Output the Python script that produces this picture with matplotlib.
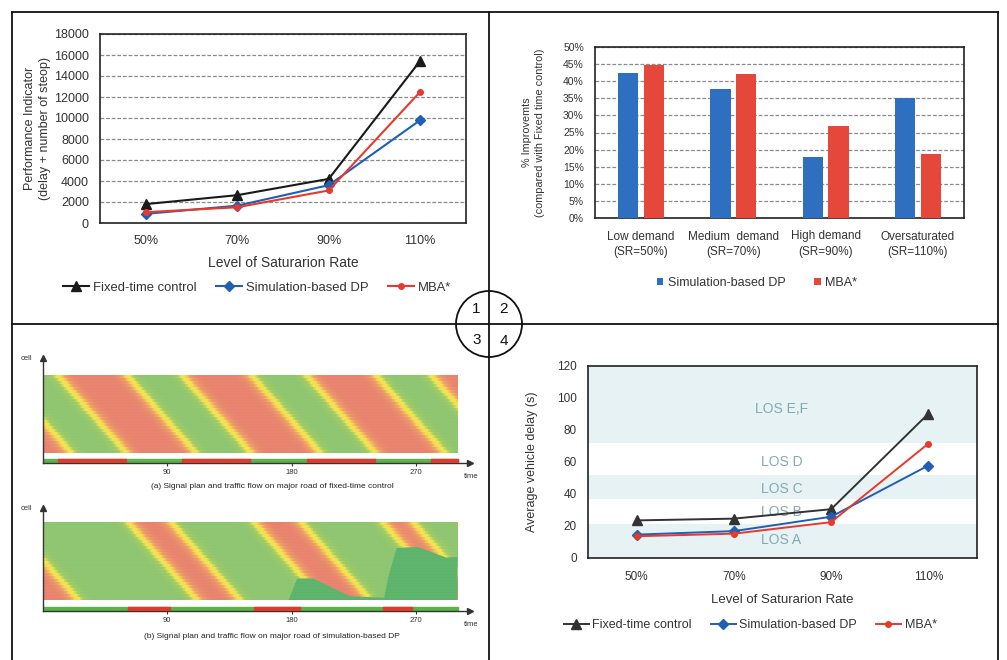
import numpy as np
import matplotlib
matplotlib.use("Agg")
import matplotlib.pyplot as plt
from matplotlib.colors import LinearSegmentedColormap
from matplotlib.patches import Circle

plt.rcParams['font.family'] = ['Liberation Sans', 'DejaVu Sans']

# ---------------- data ----------------
sat_levels = ['50%', '70%', '90%', '110%']
series_names = ['Fixed-time control', 'Simulation-based DP', 'MBA*']

perf_fixed = [1800, 2650, 4200, 15450]
perf_dp = [870, 1650, 3600, 9800]
perf_mba = [1030, 1500, 3100, 12500]

demand_labels = ['Low demand\n(SR=50%)', 'Medium  demand\n(SR=70%)',
                 'High demand\n(SR=90%)', 'Oversaturated\n(SR=110%)']
impr_dp = [42.3, 37.6, 17.8, 35.1]
impr_mba = [44.6, 42.1, 27.0, 18.8]

delay_fixed = [23.5, 24.6, 30.5, 90.2]
delay_dp = [14.6, 16.8, 25.8, 57.8]
delay_mba = [13.6, 15.2, 22.4, 71.5]

los_edges = [0, 21, 37, 52, 72, 120]
los_shaded = [True, False, True, False, True]
los_labels = ['LOS A', 'LOS B', 'LOS C', 'LOS D', 'LOS E,F']
los_label_y = [11, 29, 43, 60, 93]

# time-space diagrams: red phases of the signal at the stop line
flow_time_ticks = [90, 180, 270]
sig_a_red = [(-79, -30), (11, 60), (101, 150), (191, 240), (281, 330)]
sig_b_red = [(-60, -25), (62, 92), (153, 186), (246, 267)]
queue_b_t = [178, 184, 196, 222, 247, 250, 256, 271, 292, 300, 300]
queue_b_c = [0.0, 0.28, 0.28, 0.05, 0.03, 0.3, 0.675, 0.69, 0.55, 0.56, 0.0]
T_END = 300
LAG = 50
N_CELLS = 26

# ---------------- style ----------------
C_BLACK = '#1a1a1a'
C_BLUE = '#1f5fb4'
C_RED = '#e8392d'
C_BAR_BLUE = '#2f6fbf'
C_BAR_RED = '#e5473b'
TXT = '#333333'
GRID = '#8a8a8a'

W, H = 1007, 660
fig = plt.figure(figsize=(W / 100, H / 100), dpi=100)


def px_axes(x0, y0, x1, y1):
    return fig.add_axes([x0 / W, 1 - y1 / H, (x1 - x0) / W, (y1 - y0) / H])


def style_frame(ax):
    for s in ax.spines.values():
        s.set_color('#222222')
        s.set_linewidth(1.2)
    ax.tick_params(length=0, colors=TXT)


xpos = np.arange(len(sat_levels))

# ---------------- panel 1 ----------------
ax1 = px_axes(100, 34, 466, 223)
l1, = ax1.plot(xpos, perf_fixed, color=C_BLACK, marker='^', ms=7.5, lw=1.5)
l2, = ax1.plot(xpos, perf_dp, color=C_BLUE, marker='D', ms=5, lw=1.5)
l3, = ax1.plot(xpos, perf_mba, color=C_RED, marker='o', ms=4, lw=1.5)
ax1.set_xlim(-0.5, 3.5)
ax1.set_ylim(0, 18000)
ax1.set_yticks(np.arange(0, 18001, 2000))
ax1.set_xticks(xpos)
ax1.set_xticklabels(sat_levels, fontsize=9)
ax1.tick_params(axis='y', labelsize=9, pad=8)
ax1.tick_params(axis='x', pad=9)
ax1.yaxis.grid(True, color=GRID, ls=(0, (3, 1.5)), lw=0.9)
ax1.set_axisbelow(True)
style_frame(ax1)
ax1.set_ylabel('Performance Indicator\n(delay + number of steop)', fontsize=9,
               color=TXT, labelpad=2, linespacing=1.35)
ax1.set_xlabel('Level of Saturarion Rate', fontsize=10, color=TXT, labelpad=6)
ax1.legend([l1, l2, l3], series_names, loc='center', ncol=3, frameon=False,
           bbox_to_anchor=(257 / W, 1 - 288 / H), bbox_transform=fig.transFigure,
           fontsize=9.4, handlelength=2.0, columnspacing=1.5, handletextpad=0.3,
           labelcolor=TXT)

# ---------------- panel 2 ----------------
ax2 = px_axes(595, 47, 964, 218)
bw = 0.22
b1 = ax2.bar(xpos - 0.14, impr_dp, width=bw, color=C_BAR_BLUE, zorder=3)
b2 = ax2.bar(xpos + 0.14, impr_mba, width=bw, color=C_BAR_RED, zorder=3)
ax2.set_xlim(-0.5, 3.5)
ax2.set_ylim(0, 50)
ax2.set_yticks(np.arange(0, 51, 5))
ax2.set_yticklabels([f'{v}%' for v in range(0, 51, 5)], fontsize=7.5)
ax2.set_xticks(xpos)
ax2.set_xticklabels(demand_labels, fontsize=8.5, linespacing=1.35)
ax2.tick_params(axis='y', pad=8)
ax2.tick_params(axis='x', pad=9)
ax2.yaxis.grid(True, color=GRID, ls=(0, (3, 1.5)), lw=0.9, zorder=0)
ax2.set_axisbelow(True)
style_frame(ax2)
ax2.set_ylabel('% Improvemts\n(compared with Fixed time control)', fontsize=7.8,
               color=TXT, labelpad=13, linespacing=1.4)
ax2.legend([b1, b2], series_names[1:], loc='center', ncol=2, frameon=False,
           bbox_to_anchor=(757 / W, 1 - 283 / H), bbox_transform=fig.transFigure,
           fontsize=9, handlelength=0.55, handleheight=0.55, columnspacing=2.2,
           handletextpad=0.4, labelcolor=TXT)

# ---------------- panel 4 ----------------
ax4 = px_axes(588, 366, 977, 558)
for i, shaded in enumerate(los_shaded):
    if shaded:
        ax4.axhspan(los_edges[i], los_edges[i + 1], color='#e6f2f3', lw=0, zorder=0)
for lab, yv in zip(los_labels, los_label_y):
    ax4.text(1.49, yv, lab, ha='center', va='center', fontsize=10,
             color='#86a9b1', zorder=1)
m1, = ax4.plot(xpos, delay_fixed, color='#333333', marker='^', ms=7.5, lw=1.4, zorder=3)
m2, = ax4.plot(xpos, delay_dp, color=C_BLUE, marker='D', ms=5, lw=1.4, zorder=3)
m3, = ax4.plot(xpos, delay_mba, color=C_RED, marker='o', ms=4, lw=1.4, zorder=3)
ax4.set_xlim(-0.5, 3.5)
ax4.set_ylim(0, 120)
ax4.set_yticks(np.arange(0, 121, 20))
ax4.set_xticks(xpos)
ax4.set_xticklabels(sat_levels, fontsize=8.5)
ax4.tick_params(axis='y', labelsize=8.5, pad=8)
ax4.tick_params(axis='x', pad=9)
style_frame(ax4)
ax4.set_ylabel('Average vehicle delay (s)', fontsize=9, color=TXT, labelpad=14)
ax4.set_xlabel('Level of Saturarion Rate', fontsize=9.5, color=TXT, labelpad=8)
ax4.legend([m1, m2, m3], series_names, loc='center', ncol=3, frameon=False,
           bbox_to_anchor=(750 / W, 1 - 625 / H), bbox_transform=fig.transFigure,
           fontsize=9, handlelength=2.0, columnspacing=1.5, handletextpad=0.3,
           labelcolor=TXT)

# ---------------- panel 3 (time-space diagrams) ----------------
flow_cmap = LinearSegmentedColormap.from_list(
    'flow', [(0, '#8ec56f'), (0.18, '#a3cc65'), (0.36, '#f1e64f'), (0.56, '#f6dd4f'),
             (0.78, '#eea067'), (1, '#e8826d')])


def flow_field(red_intervals):
    dt = 0.5
    t_ext = np.arange(-40, T_END + 40, dt) + dt / 2
    c = (np.arange(N_CELLS) + 0.5) / N_CELLS
    TT, CC = np.meshgrid(t_ext, c)
    tt = TT - LAG * (1 - CC)
    ind = np.zeros_like(tt)
    for s, e in red_intervals:
        ind[(tt >= s) & (tt < e)] = 1.0
    k_t = np.arange(-25, 25.01, dt)
    kern = np.exp(-0.5 * (k_t / 5.5) ** 2)
    kern /= kern.sum()
    sm = np.array([np.convolve(r, kern, mode='same') for r in ind])
    keep = (t_ext > 0) & (t_ext < T_END)
    return sm[:, keep]


def draw_flow(y_axis, y_top, y_bot, y_arrow, red_intervals, caption, cap_y, poly=None):
    x0 = 42.5
    sc = 90 / 124.5
    x_end = 470
    ax = px_axes(x0, y_arrow, x_end, y_axis)
    hh = y_bot - y_top
    ax.set_xlim(0, (x_end - x0) * sc)
    ax.set_ylim(-(y_axis - y_bot) / hh, (y_bot - y_arrow) / hh)
    field = flow_field(red_intervals)
    ax.imshow(field, extent=[0, T_END, 0, 1], origin='lower', aspect='auto',
              cmap=flow_cmap, vmin=0, vmax=1, interpolation='nearest', zorder=1)
    if poly is not None:
        ax.fill(poly[0], poly[1], color='#5cb46b', lw=0, zorder=2)
    ax.hlines(np.arange(1, N_CELLS) / N_CELLS, 0, T_END, color='white', lw=0.3,
              alpha=0.12, zorder=3)
    # signal plan strip
    ybase = -(y_axis - y_bot) / hh + 1.0 / hh
    sh = 3.0 / hh
    ax.broken_barh([(0, T_END)], (ybase, sh), color='#5db34a', zorder=2)
    reds = [(max(s, 0), min(e, T_END) - max(s, 0)) for s, e in red_intervals
            if e > 0 and s < T_END]
    ax.broken_barh(reds, (ybase, sh), color='#e03a2a', zorder=3)
    for side in ['top', 'right']:
        ax.spines[side].set_visible(False)
    for side in ['left', 'bottom']:
        ax.spines[side].set_color('#333333')
        ax.spines[side].set_linewidth(1.0)
    ax.set_yticks([])
    ax.set_xticks(flow_time_ticks)
    ax.set_xticklabels([str(v) for v in flow_time_ticks], fontsize=5.5)
    ax.tick_params(axis='x', direction='inout', length=4, width=0.8,
                   colors='#333333', pad=2)
    ax.plot(1, 0, '>', transform=ax.transAxes, clip_on=False, ms=4,
            color='#333333', zorder=5)
    ax.plot(0, 1, '^', transform=ax.transAxes, clip_on=False, ms=4,
            color='#333333', zorder=5)
    ax.text(-0.025, 1.0, 'cell', transform=ax.transAxes, ha='right', va='center',
            fontsize=5.5, color='#333333')
    ax.text(1.003, -0.13, 'time', transform=ax.transAxes, ha='center', va='center',
            fontsize=5.5, color='#333333')
    fig.text(272 / W, 1 - cap_y / H, caption, ha='center', va='center',
             fontsize=6, color='#222222')


draw_flow(463, 375, 453, 358, sig_a_red,
          '(a) Signal plan and traffic flow on major road of fixed-time control', 487)
draw_flow(611, 523, 600, 508, sig_b_red,
          '(b) Signal plan and traffic flow on major road of simulation-based DP', 636,
          poly=(queue_b_t, queue_b_c))

# ---------------- frame overlay ----------------
ov = fig.add_axes([0, 0, 1, 1], zorder=10)
ov.set_xlim(0, W)
ov.set_ylim(H, 0)
ov.axis('off')
ov.patch.set_alpha(0)
fc = '#111111'
ov.plot([12, 12], [12, H], color=fc, lw=1.3)
ov.plot([12, 998], [12, 12], color=fc, lw=1.3)
ov.plot([998, 998], [12, H], color=fc, lw=1.3)
ov.add_patch(Circle((489, 324), 33, facecolor='white', edgecolor='none', zorder=1))
ov.plot([489, 489], [12, H], color=fc, lw=1.3, zorder=2)
ov.plot([12, 998], [324, 324], color=fc, lw=1.3, zorder=2)
ov.add_patch(Circle((489, 324), 33, facecolor='none', edgecolor=fc, lw=1.3, zorder=3))
for txt, (x, y) in zip(['1', '2', '3', '4'],
                       [(476, 309), (503, 309), (477, 340), (504, 341)]):
    ov.text(x, y, txt, ha='center', va='center', fontsize=11, color='#111111')

fig.savefig('out.png', dpi=100)
